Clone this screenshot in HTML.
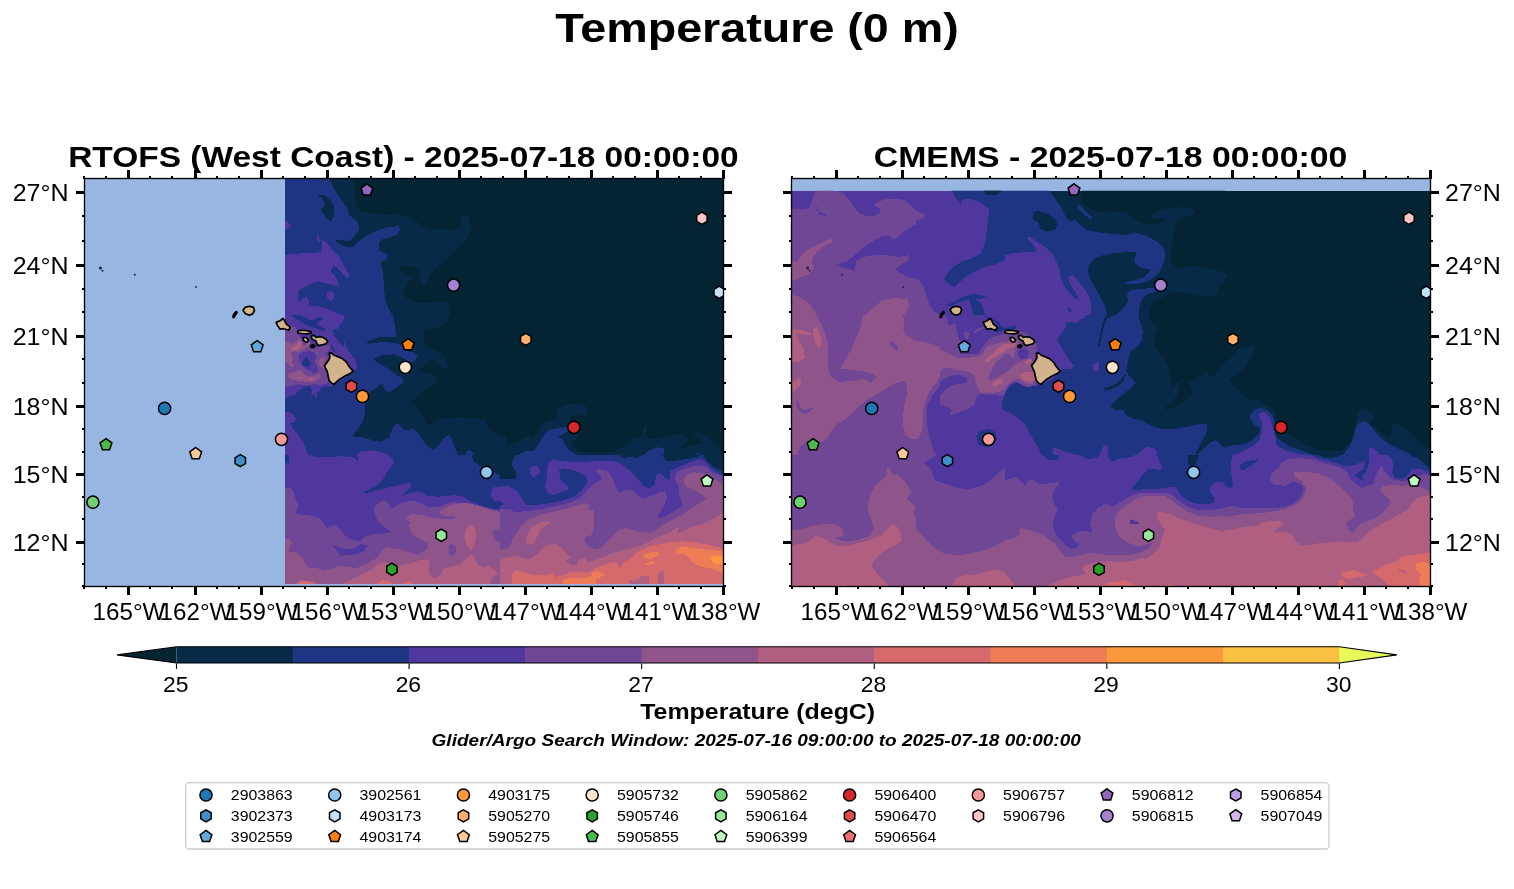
<!DOCTYPE html><html><head><meta charset="utf-8"><title>Temperature (0 m)</title>
<style>html,body{margin:0;padding:0;background:#fff}svg{display:block;will-change:transform}text{font-family:"Liberation Sans",sans-serif;fill:#000}</style></head><body>
<svg width="1514" height="889" viewBox="0 0 1514 889">
<rect width="1514" height="889" fill="#fff"/>
<rect x="84.40" y="178.40" width="639.00" height="407.80" fill="#97b6e1"/>
<rect x="791.50" y="178.40" width="639.10" height="407.80" fill="#97b6e1"/>
<clipPath id="c1"><rect x="285.00" y="178.40" width="215.00" height="136.60"/></clipPath>
<g clip-path="url(#c1)" shape-rendering="crispEdges">
<rect x="285.00" y="178.40" width="215.00" height="136.60" fill="#062a47"/>
<g transform="translate(280,175) scale(0.157480)">
<polygon points="0,0 300,0 330,60 350,100 390,160 420,200 440,250 470,280 495,300 505,345 470,390 440,420 400,415 360,410 350,420 380,440 430,460 460,455 500,420 560,380 620,350 700,330 755,325 765,350 740,380 700,395 650,405 625,430 630,480 660,495 685,510 680,535 650,545 640,560 655,620 660,700 665,780 685,840 710,889 0,889" fill="#1f3483"/>
<polygon points="240,130 280,125 320,160 345,210 345,260 320,295 290,265 260,225 285,185 270,150" fill="#062a47"/>
<polygon points="32,285 70,320 40,350 32,345" fill="#4f379e"/>
<polygon points="0,510 100,500 200,495 260,490 270,460 265,410 290,425 330,470 370,510 390,550 420,600 440,630 435,655 400,630 370,595 340,572 335,590 320,605 350,640 370,680 375,710 340,700 300,690 250,675 200,690 150,715 120,730 115,760 120,820 140,785 170,775 185,800 180,830 230,830 300,850 350,870 380,889 0,889" fill="#4f379e"/>
<polygon points="230,385 245,380 255,430 240,415" fill="#4f379e"/>
<polygon points="300,745 325,735 348,755 340,790 315,800 298,775" fill="#4f379e"/>
<polygon points="475,0 470,60 475,130 485,190 510,230 600,245 690,255 750,245 830,270 900,320 950,355 1000,340 1060,345 1110,355 1140,330 1160,290 1150,265 1175,255 1205,280 1213,330 1190,400 1130,470 1050,545 980,600 940,650 930,695 905,700 890,660 880,600 840,580 790,575 750,575 760,600 800,630 835,645 840,665 810,680 795,720 775,750 800,780 850,805 900,815 960,810 1020,805 1060,810 1075,850 1080,889 1420,889 1420,0" fill="#042333"/>
</g></g>
<clipPath id="c2"><rect x="500.00" y="178.40" width="223.40" height="136.60"/></clipPath>
<g clip-path="url(#c2)" shape-rendering="crispEdges">
<rect x="500.00" y="178.40" width="223.40" height="136.60" fill="#042333"/>
<g transform="translate(500,175) scale(0.157480)">
</g></g>
<clipPath id="c3"><rect x="285.00" y="315.00" width="215.00" height="140.00"/></clipPath>
<g clip-path="url(#c3)" shape-rendering="crispEdges">
<rect x="285.00" y="315.00" width="215.00" height="140.00" fill="#062a47"/>
<g transform="translate(280,315) scale(0.157480)">
<polygon points="0,0 715,0 730,60 738,140 690,142 640,140 590,155 545,175 570,182 640,172 720,176 775,190 790,225 850,238 875,265 855,292 830,300 770,268 720,250 650,255 595,278 610,300 650,320 700,350 745,385 782,405 778,430 740,460 690,492 665,470 645,438 600,470 560,500 540,540 538,640 520,690 480,740 460,770 520,775 600,800 640,805 690,780 715,720 740,685 760,700 790,730 850,725 880,750 900,790 935,830 975,860 1010,820 1050,775 1075,762 1090,790 1110,840 1130,889 0,889" fill="#1f3483"/>
<polygon points="1170,889 1200,855 1225,870 1235,889" fill="#1f3483"/>
<polygon points="1080,0 1060,40 1000,80 930,90 905,110 910,150 930,200 960,215 1010,235 1050,270 1065,320 1060,350 1020,330 990,300 965,275 940,300 900,335 878,355 900,365 960,370 1000,400 990,440 950,460 900,490 860,530 830,550 870,590 900,640 940,705 1000,670 1060,655 1150,650 1250,655 1300,665 1310,700 1340,735 1420,765 1420,0" fill="#042333"/>
<polygon points="0,0 405,0 400,40 370,80 380,130 400,160 410,200 440,240 475,280 490,330 470,350 420,390 340,440 310,460 280,450 240,470 235,530 210,500 200,460 150,470 100,490 60,520 0,545" fill="#4f379e"/>
<polygon points="75,0 120,25 180,35 235,55 245,40 210,15 200,0" fill="#1f3483"/>
<polygon points="300,60 330,90 345,150 335,200 320,160 305,110" fill="#1f3483"/>
<polygon points="0,60 100,50 200,70 250,120 300,200 330,250 290,300 285,340 300,380 310,420 250,440 180,430 100,440 50,440 0,430" fill="#704795"/>
<polygon points="135,275 170,262 205,285 205,320 175,335 140,320" fill="#4f379e"/>
<polygon points="150,285 175,278 192,295 188,318 165,322 150,308" fill="#1f3483"/>
<polygon points="45,160 90,150 140,165 160,200 150,240 110,262 70,255 45,225" fill="#8f558a"/>
<polygon points="45,385 100,365 180,370 250,375 290,395 250,418 160,415 90,420 50,410" fill="#8f558a"/>
<polygon points="250,280 285,265 295,310 285,350 262,330" fill="#8f558a"/>
<polygon points="80,200 130,190 140,215 120,238 85,232" fill="#b05f81"/>
<polygon points="120,392 180,385 235,395 225,410 150,408" fill="#b05f81"/>
<polygon points="0,615 70,620 105,660 90,680 60,690 90,730 130,780 160,830 180,889 0,889" fill="#4f379e"/>
<polygon points="480,889 520,865 580,860 640,870 690,889" fill="#4f379e"/>
</g></g>
<clipPath id="c4"><rect x="500.00" y="315.00" width="223.40" height="140.00"/></clipPath>
<g clip-path="url(#c4)" shape-rendering="crispEdges">
<rect x="500.00" y="315.00" width="223.40" height="140.00" fill="#042333"/>
<g transform="translate(500,315) scale(0.157480)">
<polygon points="0,765 40,770 50,830 100,810 180,770 210,785 240,740 260,695 300,675 360,660 370,600 400,575 470,565 540,575 558,605 545,635 490,630 445,640 440,680 500,760 480,800 450,800 470,840 510,870 560,875 640,880 720,870 790,830 830,800 850,780 895,775 910,720 925,700 935,730 930,780 990,790 1060,775 1110,760 1160,755 1195,790 1180,820 1120,860 1180,840 1250,820 1300,820 1260,780 1220,750 1260,745 1320,770 1360,810 1397,860 1420,889 0,889" fill="#062a47"/>
<polygon points="120,889 160,865 220,860 250,810 280,760 310,730 360,720 430,710 430,740 390,760 365,775 400,790 415,830 440,860 490,889" fill="#1f3483"/>
<polygon points="915,889 950,860 1000,840 1040,845 1040,889" fill="#1f3483"/>
<polygon points="1230,889 1260,878 1280,889" fill="#1f3483"/>
</g></g>
<clipPath id="c5"><rect x="285.00" y="455.00" width="215.00" height="129.00"/></clipPath>
<g clip-path="url(#c5)" shape-rendering="crispEdges">
<rect x="285.00" y="455.00" width="215.00" height="129.00" fill="#4f379e"/>
<g transform="translate(280,455) scale(0.157480)">
<polygon points="690,0 725,40 700,80 680,110 650,160 620,190 570,215 520,245 560,240 620,225 700,205 780,185 835,175 830,200 800,230 775,260 820,240 870,230 900,235 940,260 1000,265 1100,255 1160,260 1200,290 1280,320 1350,340 1420,345 1420,0" fill="#1f3483"/>
<polygon points="200,0 230,15 300,12 400,8 470,15 490,40 500,25 485,0" fill="#1f3483"/>
<polygon points="0,0 60,0 55,50 32,55 0,55" fill="#1f3483"/>
<polygon points="1215,0 1230,40 1270,70 1350,100 1420,150 1420,0" fill="#062a47"/>
<polygon points="1345,210 1380,200 1420,205 1420,290 1360,290 1340,260" fill="#4f379e"/>
<polygon points="0,200 70,210 90,240 100,290 120,320 95,370 140,380 200,385 250,400 280,440 305,475 320,450 350,445 390,480 420,520 470,540 510,550 540,520 580,505 640,500 700,490 760,510 810,545 825,560 780,530 720,500 660,460 620,420 600,370 600,330 630,300 670,288 690,310 710,340 760,310 810,295 850,290 900,310 940,330 1000,330 1060,310 1100,300 1200,305 1300,335 1420,360 1420,889 0,889" fill="#704795"/>
<polygon points="335,570 380,590 430,600 480,590 510,565 560,575 530,610 490,630 440,635 385,640 360,610" fill="#4f379e"/>
<polygon points="0,530 60,535 75,560 55,590 60,615 100,620 140,650 160,690 180,720 230,715 280,735 330,720 380,705 440,710 480,720 530,700 570,680 620,650 650,600 680,585 720,595 770,600 830,620 870,635 910,615 940,590 940,560 900,540 860,520 830,490 820,450 830,430 800,400 830,375 900,380 960,395 1020,405 1080,410 1115,400 1110,385 1050,385 1010,370 1030,345 1080,320 1150,305 1220,310 1300,335 1420,370 1420,889 0,889" fill="#8f558a"/>
<polygon points="1070,575 1090,565 1115,580 1115,620 1095,640 1070,625" fill="#704795"/>
<polygon points="1350,480 1420,470 1420,560 1360,540" fill="#704795"/>
<polygon points="400,818 450,790 520,760 580,730 610,700 650,680 760,700 820,690 880,670 940,660 950,700 945,740 960,770 990,785 1020,760 1040,720 1090,710 1150,690 1190,650 1215,635 1240,660 1255,700 1290,710 1330,705 1360,730 1385,750 1340,790 1320,889 400,889" fill="#b05f81"/>
<polygon points="1190,450 1215,445 1240,470 1245,520 1230,580 1210,610 1185,570 1170,520 1175,480" fill="#b05f81"/>
<polygon points="100,818 130,795 200,800 240,818" fill="#b05f81"/>
<polygon points="110,818 140,797 190,806 220,818" fill="#d5696c"/>
<polygon points="610,818 650,795 700,805 720,818" fill="#d5696c"/>
<polygon points="780,818 820,800 850,818" fill="#d5696c"/>
</g></g>
<clipPath id="c6"><rect x="500.00" y="455.00" width="223.40" height="129.00"/></clipPath>
<g clip-path="url(#c6)" shape-rendering="crispEdges">
<rect x="500.00" y="455.00" width="223.40" height="129.00" fill="#1f3483"/>
<g transform="translate(500,455) scale(0.157480)">
<polygon points="0,0 105,0 80,30 78,70 105,110 100,150 0,150" fill="#062a47"/>
<polygon points="760,0 790,25 820,10 870,20 900,0" fill="#062a47"/>
<polygon points="1030,0 1050,35 1100,40 1160,30 1230,20 1280,0" fill="#062a47"/>
<polygon points="1290,0 1320,40 1360,80 1420,105 1420,0" fill="#062a47"/>
<polygon points="0,195 60,200 110,230 140,280 170,320 250,315 350,300 430,280 480,260 520,225 550,180 555,140 520,120 460,95 400,85 375,100 385,160 430,200 430,220 380,240 340,255 300,240 285,200 295,150 300,90 310,45 330,28 400,40 500,45 600,40 700,35 760,50 800,80 850,120 880,160 910,195 950,215 985,190 990,130 1010,115 1040,135 1075,165 1080,100 1150,70 1220,40 1270,25 1300,40 1340,85 1420,135 1420,889 0,889" fill="#4f379e"/>
<polygon points="190,75 230,68 255,95 250,125 215,140 190,120" fill="#4f379e"/>
<polygon points="0,295 25,310 0,325" fill="#1f3483"/>
<polygon points="0,345 50,340 100,365 180,355 280,340 380,320 450,300 520,265 560,215 600,180 650,150 630,125 605,95 640,88 690,110 715,150 730,190 760,240 800,220 840,225 870,250 900,275 960,260 1020,235 1050,230 1060,270 1040,320 1020,360 1000,395 1030,400 1080,370 1140,335 1160,315 1140,260 1135,200 1110,150 1120,110 1180,85 1260,65 1310,75 1340,110 1420,135 1420,889 0,889" fill="#704795"/>
<polygon points="0,595 40,595 70,570 75,540 110,490 140,445 180,410 260,380 360,355 440,335 500,320 545,305 565,320 565,345 595,355 600,400 595,450 585,510 540,515 535,545 560,580 600,600 640,590 680,550 720,510 760,470 800,465 850,480 900,490 960,495 1000,470 1040,440 1080,420 1140,390 1200,350 1260,310 1310,280 1280,250 1230,220 1180,195 1165,160 1180,130 1230,110 1290,115 1350,150 1420,185 1420,889 0,889" fill="#8f558a"/>
<polygon points="0,665 50,650 110,640 180,665 230,635 270,595 310,570 360,565 400,600 430,630 450,650 420,670 440,695 490,700 500,660 540,655 560,680 600,670 650,650 720,620 800,600 870,585 940,555 1000,520 1060,500 1110,470 1140,460 1125,500 1180,475 1220,455 1280,440 1330,420 1420,365 1420,889 0,889" fill="#b05f81"/>
<polygon points="165,530 200,460 250,430 310,420 315,435 260,470 235,520 215,565 170,570" fill="#b05f81"/>
<polygon points="75,760 95,735 130,740 180,755 250,765 310,760 340,745 345,775 400,765 450,745 520,745 560,750 600,720 650,700 700,685 740,680 760,720 790,680 840,650 880,610 940,585 1000,570 1080,555 1160,548 1250,555 1320,570 1420,592 1420,889 95,889 75,790" fill="#d5696c"/>
<polygon points="820,790 850,800 900,770 945,765 950,889 830,889" fill="#b05f81"/>
<polygon points="1005,750 1040,730 1045,760 1035,889 1005,889" fill="#b05f81"/>
<polygon points="390,889 400,795 450,780 520,785 580,770 590,745 620,738 670,760 640,775 610,790 600,889" fill="#ee7c55"/>
<polygon points="270,889 290,800 320,889" fill="#ee7c55"/>
<polygon points="905,635 940,620 1000,615 1010,635 960,660 920,655" fill="#ee7c55"/>
<polygon points="920,690 975,670 975,690 930,700" fill="#ee7c55"/>
<polygon points="1115,600 1160,580 1220,590 1300,600 1420,612 1420,750 1340,720 1280,710 1230,690 1200,650 1170,630 1120,630" fill="#ee7c55"/>
<polygon points="1340,650 1360,640 1420,640 1420,690 1370,690 1345,675" fill="#fa993c"/>
</g></g>
<clipPath id="c7"><rect x="285.00" y="315.00" width="65.00" height="80.00"/></clipPath>
<g clip-path="url(#c7)" shape-rendering="crispEdges">
<rect x="285.00" y="315.00" width="65.00" height="80.00" fill="#1f3483"/>
<g transform="translate(280,315) scale(0.090009)">
<polygon points="57,0 700,0 715,40 690,80 660,110 650,150 620,150 590,170 600,230 640,280 680,330 700,370 720,290 730,340 760,400 810,450 850,510 860,560 840,620 790,650 600,780 560,800 520,790 470,800 440,840 400,889 57,889" fill="#4f379e"/>
<polygon points="130,0 170,40 230,70 290,110 340,130 400,150 460,170 500,190 495,150 440,120 400,100 440,70 480,40 450,20 400,40 350,60 300,40 260,20 220,0" fill="#1f3483"/>
<polygon points="560,330 590,350 620,400 600,410 570,380" fill="#1f3483"/>
<polygon points="160,889 200,850 260,800 330,790 360,830 345,889" fill="#1f3483"/>
<polygon points="57,110 130,120 180,140 200,200 230,250 260,300 330,320 400,350 480,350 530,330 560,360 540,400 500,430 545,470 520,530 495,560 505,600 525,650 540,720 520,760 460,780 380,770 300,780 200,770 100,790 57,800" fill="#704795"/>
<polygon points="215,430 260,410 330,400 390,420 400,470 380,520 420,580 420,630 370,650 330,620 270,590 230,550 210,490" fill="#4f379e"/>
<polygon points="245,530 270,490 300,465 320,500 345,550 320,575 280,575 250,560" fill="#1f3483"/>
<polygon points="57,290 100,300 150,320 190,290 210,250 240,290 250,340 290,330 330,310 340,330 280,370 230,400 190,410 150,400 120,420 140,480 130,540 160,570 130,580 90,540 57,520" fill="#8f558a"/>
<polygon points="100,650 160,630 230,610 260,640 300,680 380,680 440,655 455,680 420,720 360,740 280,740 200,730 130,720 90,690" fill="#8f558a"/>
<polygon points="430,520 450,480 490,470 500,500 480,560 500,600 470,590 440,560" fill="#8f558a"/>
<polygon points="120,370 170,350 200,310 230,290 245,330 220,370 180,390 140,400" fill="#b05f81"/>
<polygon points="300,300 335,305 340,325 310,325" fill="#b05f81"/>
<polygon points="200,690 240,685 240,700 205,700" fill="#b05f81"/>
<polygon points="320,700 370,700 365,720 325,715" fill="#b05f81"/>
</g></g>
<clipPath id="c8"><rect x="791.50" y="190.80" width="213.50" height="124.20"/></clipPath>
<g clip-path="url(#c8)" shape-rendering="crispEdges">
<rect x="791.50" y="190.80" width="213.50" height="124.20" fill="#4f379e"/>
<g transform="translate(785,175) scale(0.157480)">
<polygon points="0,205 100,220 150,215 175,160 185,115 205,95 300,95 370,115 410,160 440,210 480,245 530,265 580,255 610,235 600,210 565,195 590,170 640,155 700,150 760,160 800,195 840,230 890,250 880,270 830,290 835,315 780,340 740,370 720,395 685,410 660,385 620,390 560,420 500,460 440,510 390,550 325,575 380,590 440,610 455,545 500,520 570,510 650,510 720,520 785,510 785,540 740,570 700,595 720,620 790,650 850,665 880,710 900,770 920,830 950,870 980,889 0,889" fill="#704795"/>
<polygon points="205,190 215,230 265,255 260,265 220,250 200,220" fill="#4f379e"/>
<polygon points="0,560 80,545 110,500 140,475 200,445 260,415 295,405 305,420 250,450 200,490 170,540 180,600 150,630 100,650 0,695" fill="#8f558a"/>
<polygon points="0,745 80,770 140,800 180,850 200,889 0,889" fill="#8f558a"/>
<polygon points="510,889 560,840 620,795 700,780 780,790 790,830 770,870 760,889" fill="#8f558a"/>
<polygon points="1055,95 1080,140 1115,185 1130,150 1180,150 1250,180 1295,220 1290,290 1280,360 1270,440 1240,500 1180,530 1120,550 1060,590 1020,640 1010,665 1040,690 1075,715 1110,680 1170,630 1250,590 1330,570 1397,540 1397,95" fill="#1f3483"/>
<polygon points="1255,95 1280,125 1340,130 1380,95" fill="#062a47"/>
<polygon points="1020,830 1060,810 1120,780 1190,755 1250,765 1280,770 1240,790 1210,790 1240,810 1260,850 1270,889 1200,889 1180,830 1170,790 1100,810 1050,835" fill="#1f3483"/>
</g></g>
<clipPath id="c9"><rect x="1005.00" y="190.80" width="220.00" height="124.20"/></clipPath>
<g clip-path="url(#c9)" shape-rendering="crispEdges">
<rect x="1005.00" y="190.80" width="220.00" height="124.20" fill="#062a47"/>
<g transform="translate(1005,175) scale(0.157480)">
<polygon points="490,95 480,150 500,185 540,215 590,235 650,230 700,235 760,235 800,260 840,290 880,310 940,315 1000,305 1020,285 990,275 940,280 920,260 960,235 1020,215 1100,205 1180,210 1205,235 1180,260 1120,270 1090,290 1080,340 1065,420 1050,500 1055,560 1090,590 1130,600 1160,575 1220,580 1300,595 1397,620 1397,95" fill="#042333"/>
<polygon points="910,889 920,840 950,800 1000,775 1060,745 1100,740 1180,755 1260,770 1330,765 1360,740 1350,710 1397,680 1397,889" fill="#042333"/>
<polygon points="0,95 280,95 310,140 340,180 365,220 385,265 410,295 450,285 480,320 520,350 600,365 680,375 760,380 830,370 900,385 960,420 1005,460 1020,500 1010,550 990,600 960,640 910,675 850,690 770,695 760,685 820,670 880,650 915,620 920,600 870,590 840,575 820,545 830,510 835,490 780,490 700,495 620,510 570,530 540,565 525,600 540,660 575,720 610,780 635,830 650,889 0,889" fill="#1f3483"/>
<polygon points="175,260 185,235 215,228 270,245 315,275 335,315 320,345 260,360 225,340 210,300 180,285" fill="#062a47"/>
<polygon points="462,195 475,190 550,270 540,280 500,250 465,215" fill="#1f3483"/>
<polygon points="710,889 760,840 785,800 770,760 790,735 850,725 950,715 960,740 900,760 870,790 855,830 850,889" fill="#1f3483"/>
<polygon points="0,510 60,495 130,490 205,485 175,440 140,400 160,393 210,430 260,460 300,500 325,545 345,600 355,660 380,710 410,750 440,780 465,795 465,770 430,720 405,670 400,645 430,635 470,680 510,730 540,790 550,840 540,889 0,889" fill="#4f379e"/>
<polygon points="390,845 410,845 430,865 410,868" fill="#1f3483"/>
</g></g>
<clipPath id="c10"><rect x="1225.00" y="190.80" width="205.60" height="124.20"/></clipPath>
<g clip-path="url(#c10)" shape-rendering="crispEdges">
<rect x="1225.00" y="190.80" width="205.60" height="124.20" fill="#042333"/>
<g transform="translate(1225,175) scale(0.157480)">
<polygon points="0,620 25,640 0,665" fill="#062a47"/>
</g></g>
<clipPath id="c11"><rect x="791.50" y="315.00" width="213.50" height="140.00"/></clipPath>
<g clip-path="url(#c11)" shape-rendering="crispEdges">
<rect x="791.50" y="315.00" width="213.50" height="140.00" fill="#704795"/>
<g transform="translate(785,315) scale(0.157480)">
<polygon points="1090,0 1085,40 1100,100 1110,170 1130,245 1200,245 1240,225 1280,190 1330,150 1397,120 1397,0" fill="#4f379e"/>
<polygon points="1135,110 1155,100 1170,125 1160,155 1140,150" fill="#704795"/>
<polygon points="1140,385 1090,380 1050,395 1000,440 960,480 930,520 905,570 900,640 905,720 920,790 940,850 960,889 1397,889 1397,400 1200,400 1160,410" fill="#4f379e"/>
<polygon points="1397,480 1340,500 1280,505 1230,480 1210,440 1200,400 1160,410 1120,430 1060,460 1010,490 980,530 1000,570 1060,600 1045,640 1100,620 1160,595 1220,565 1280,540 1340,520 1397,500" fill="#704795"/>
<polygon points="0,0 200,0 220,40 250,100 270,170 275,250 275,340 290,390 340,425 420,420 500,405 545,430 585,395 560,375 480,355 400,345 350,340 380,290 420,220 450,150 480,80 495,0 745,0 760,40 750,90 770,130 820,160 900,175 980,200 1040,240 1100,265 1180,270 1240,250 1290,215 1340,170 1397,140 1397,480 1340,500 1280,505 1230,480 1210,440 1200,400 1150,365 1080,345 1010,330 990,380 960,430 920,480 895,540 880,600 875,680 870,740 840,785 800,790 765,760 750,700 750,630 760,560 775,490 775,440 750,420 700,435 640,470 580,505 520,540 470,580 420,630 370,670 330,690 300,730 270,780 230,810 160,790 100,830 80,889 0,889" fill="#8f558a"/>
<polygon points="668,165 690,170 720,205 715,230 690,215 670,190" fill="#704795"/>
<polygon points="75,535 90,550 95,590 120,605 160,590 185,595 130,630 90,610 70,575" fill="#704795"/>
<polygon points="0,80 100,95 165,115 170,130 120,125 70,120 90,170 120,220 125,270 90,300 0,305" fill="#b05f81"/>
<polygon points="180,90 200,75 225,130 235,180 215,215 195,180 180,130" fill="#b05f81"/>
<polygon points="0,455 80,410 105,400 100,440 60,480 0,495" fill="#b05f81"/>
<polygon points="1265,290 1300,255 1350,225 1397,200 1397,215 1350,260 1300,295 1270,310" fill="#b05f81"/>
<polygon points="1315,435 1350,420 1380,425 1350,455 1320,455" fill="#b05f81"/>
<polygon points="1215,770 1240,735 1290,722 1335,745 1345,790 1320,830 1270,840 1230,820" fill="#1f3483"/>
<polygon points="1380,540 1397,520 1397,610 1375,590" fill="#1f3483"/>
</g></g>
<clipPath id="c12"><rect x="1005.00" y="315.00" width="220.00" height="140.00"/></clipPath>
<g clip-path="url(#c12)" shape-rendering="crispEdges">
<rect x="1005.00" y="315.00" width="220.00" height="140.00" fill="#1f3483"/>
<g transform="translate(1005,315) scale(0.157480)">
<polygon points="845,0 860,50 875,100 870,160 840,200 800,230 780,290 770,350 785,380 830,430 790,470 740,510 700,545 670,585 700,605 750,600 770,635 820,660 870,670 920,700 980,720 1060,725 1150,710 1230,695 1285,690 1280,740 1250,800 1225,850 1210,889 1250,860 1300,810 1340,795 1380,830 1397,850 1397,0" fill="#062a47"/>
<polygon points="640,0 690,0 650,20 630,60 615,130 600,200 590,195 605,120 620,50" fill="#062a47"/>
<polygon points="630,465 680,450 730,420 760,380 775,370 750,420 720,450 670,475 635,480" fill="#062a47"/>
<polygon points="915,0 930,40 980,90 950,130 945,180 970,230 1010,280 1040,330 1045,400 1060,470 1100,430 1140,400 1110,440 1100,500 1060,550 1010,590 1030,605 1090,580 1150,540 1190,490 1180,450 1160,430 1200,410 1250,380 1290,355 1290,400 1330,380 1397,300 1397,0" fill="#042333"/>
<polygon points="0,0 360,0 385,60 380,100 340,140 335,160 370,210 400,260 430,310 470,350 440,358 350,360 300,400 230,445 180,440 140,470 80,440 40,450 0,490" fill="#4f379e"/>
<polygon points="370,0 400,20 450,35 500,20 515,0" fill="#4f379e"/>
<polygon points="555,320 580,300 600,300 600,340 580,360 560,345" fill="#4f379e"/>
<polygon points="0,610 40,625 90,660 130,700 150,740 180,790 210,840 230,889 0,889" fill="#4f379e"/>
<polygon points="300,840 340,850 390,870 440,885 450,889 310,889" fill="#4f379e"/>
<polygon points="600,889 620,840 640,820 655,840 650,889" fill="#4f379e"/>
<polygon points="845,889 880,850 910,835 950,850 970,870 960,889" fill="#4f379e"/>
<polygon points="0,100 60,95 120,100 180,120 200,170 200,230 180,300 170,360 190,420 150,450 100,430 40,440 0,455" fill="#704795"/>
<polygon points="0,180 50,170 80,200 60,240 40,270 0,280" fill="#8f558a"/>
<polygon points="0,340 50,320 110,300 160,280 175,320 180,380 190,420 150,440 120,400 80,380 30,375 0,380" fill="#8f558a"/>
<polygon points="0,195 40,190 60,215 30,235 0,235" fill="#b05f81"/>
<polygon points="130,380 160,365 185,390 185,420 150,425 130,405" fill="#b05f81"/>
<polygon points="85,220 120,205 150,225 150,260 115,280 90,260" fill="#4f379e"/>
</g></g>
<clipPath id="c13"><rect x="1225.00" y="315.00" width="205.60" height="140.00"/></clipPath>
<g clip-path="url(#c13)" shape-rendering="crispEdges">
<rect x="1225.00" y="315.00" width="205.60" height="140.00" fill="#042333"/>
<g transform="translate(1225,315) scale(0.157480)">
<polygon points="0,300 40,270 80,220 130,200 185,200 170,260 130,320 90,370 50,395 30,410 60,450 110,500 160,550 200,535 250,565 300,590 325,640 330,690 400,760 460,790 520,830 600,855 680,865 740,860 790,820 820,750 835,650 850,605 900,598 940,620 940,660 920,690 960,720 1000,760 1050,775 1060,700 1090,685 1130,710 1180,750 1230,800 1305,860 1305,889 0,889" fill="#062a47"/>
<polygon points="0,840 60,825 130,820 180,790 215,750 225,720 190,700 165,670 160,640 180,605 220,590 270,605 305,640 320,700 315,750 340,790 400,830 460,850 520,875 570,889 0,889" fill="#1f3483"/>
<polygon points="745,889 780,850 810,790 830,720 855,678 890,675 930,710 980,770 1040,820 1100,850 1160,875 1180,889" fill="#1f3483"/>
<polygon points="60,889 120,860 180,830 220,790 235,740 235,680 215,640 225,620 255,618 285,650 305,720 320,780 330,830 380,860 440,875 500,889" fill="#4f379e"/>
<polygon points="915,845 945,845 965,870 990,889 915,889" fill="#4f379e"/>
</g></g>
<clipPath id="c14"><rect x="791.50" y="455.00" width="213.50" height="131.20"/></clipPath>
<g clip-path="url(#c14)" shape-rendering="crispEdges">
<rect x="791.50" y="455.00" width="213.50" height="131.20" fill="#704795"/>
<g transform="translate(785,455) scale(0.157480)">
<polygon points="960,0 920,30 880,55 920,80 940,120 950,160 1010,180 1080,205 1160,220 1240,200 1300,165 1350,120 1397,80 1397,0" fill="#4f379e"/>
<polygon points="0,465 90,480 150,455 220,440 320,440 360,465 375,500 360,520 320,520 350,545 400,550 480,535 540,510 565,470 555,430 535,380 525,320 540,250 570,200 610,160 645,130 650,100 640,80 660,80 690,130 715,120 760,165 800,230 775,275 825,325 820,380 835,410 830,460 860,500 900,545 950,590 1010,625 1080,635 1160,630 1240,610 1310,590 1397,545 1397,889 0,889" fill="#8f558a"/>
<polygon points="0,578 100,565 150,555 180,525 210,515 250,530 300,560 340,580 400,580 460,560 520,545 580,525 620,505 650,470 680,438 710,455 740,500 735,550 700,575 650,595 610,625 570,665 550,700 580,745 620,790 660,830 680,889 0,889" fill="#b05f81"/>
<polygon points="1050,889 1060,830 1085,780 1130,765 1200,760 1260,745 1320,730 1370,735 1397,745 1397,889" fill="#b05f81"/>
<polygon points="355,830 370,820 390,830" fill="#d5696c"/>
</g></g>
<clipPath id="c15"><rect x="1005.00" y="455.00" width="220.00" height="131.20"/></clipPath>
<g clip-path="url(#c15)" shape-rendering="crispEdges">
<rect x="1005.00" y="455.00" width="220.00" height="131.20" fill="#4f379e"/>
<g transform="translate(1005,455) scale(0.157480)">
<polygon points="965,0 980,40 1000,70 985,100 950,85 910,90 870,130 830,180 800,215 830,225 900,215 980,215 1040,205 1080,200 1100,230 1130,270 1180,300 1250,315 1320,305 1335,280 1305,240 1300,210 1330,175 1370,170 1397,185 1397,0" fill="#1f3483"/>
<polygon points="240,0 280,35 330,30 345,0" fill="#1f3483"/>
<polygon points="470,0 520,25 580,20 600,0" fill="#1f3483"/>
<polygon points="650,0 680,45 720,25 790,15 830,0" fill="#1f3483"/>
<polygon points="1165,0 1160,50 1180,70 1210,60 1230,0" fill="#062a47"/>
<polygon points="0,160 40,150 70,135 100,170 130,195 155,155 190,160 210,185 280,180 355,168 320,210 300,260 310,310 335,340 320,380 305,420 310,480 340,530 380,570 420,595 455,590 475,565 440,545 425,525 430,505 470,485 520,485 555,490 540,440 555,380 590,335 640,312 680,330 720,305 770,275 820,250 870,240 950,240 1030,240 1070,260 1110,295 1160,330 1230,350 1310,350 1397,335 1397,889 0,889" fill="#704795"/>
<polygon points="0,540 50,530 90,510 95,490 85,470 110,465 170,480 230,505 280,535 320,565 350,610 380,645 420,650 480,635 540,620 600,630 680,635 760,635 830,630 880,610 920,585 940,555 900,570 850,580 800,565 750,540 715,500 700,450 700,400 720,360 770,320 830,280 880,262 960,262 1020,262 1060,290 1100,320 1160,360 1230,385 1310,395 1397,385 1397,889 0,889" fill="#8f558a"/>
<polygon points="960,370 990,362 1040,370 1090,395 1150,420 1220,440 1300,465 1397,490 1397,889 250,889 270,830 320,805 380,785 440,770 500,760 510,745 490,720 520,695 580,680 660,675 760,680 820,670 870,655 900,660 920,640 960,610 985,580 990,540 1005,500 1015,480 990,440 970,400" fill="#b05f81"/>
<polygon points="0,755 30,780 60,830 70,889 0,889" fill="#b05f81"/>
<polygon points="630,830 660,810 720,805 760,795 790,810 830,830 830,889 630,889" fill="#d5696c"/>
<polygon points="1020,830 1045,820 1080,830 1080,889 1020,889" fill="#d5696c"/>
<polygon points="795,408 850,425 850,438 795,440" fill="#4f379e"/>
</g></g>
<clipPath id="c16"><rect x="1225.00" y="455.00" width="205.60" height="131.20"/></clipPath>
<g clip-path="url(#c16)" shape-rendering="crispEdges">
<rect x="1225.00" y="455.00" width="205.60" height="131.20" fill="#4f379e"/>
<g transform="translate(1225,455) scale(0.157480)">
<polygon points="0,0 50,0 40,40 35,90 45,150 50,200 30,210 0,195" fill="#1f3483"/>
<polygon points="95,60 130,40 215,25 200,45 160,70 115,100 95,85" fill="#1f3483"/>
<polygon points="540,0 600,25 680,45 760,70 830,65 870,40 890,45 880,90 840,115 825,130 850,150 880,170 870,140 900,100 915,40 915,0" fill="#1f3483"/>
<polygon points="1035,0 1060,30 1070,70 1060,110 1080,145 1130,155 1165,120 1190,90 1230,85 1275,100 1305,110 1305,0" fill="#1f3483"/>
<polygon points="590,0 640,20 700,15 740,0" fill="#062a47"/>
<polygon points="1175,0 1220,20 1260,50 1290,80 1305,90 1305,0" fill="#062a47"/>
<polygon points="0,330 60,325 120,340 200,335 300,340 380,330 430,310 470,280 495,240 495,200 470,180 430,170 380,195 310,190 285,160 295,120 340,80 360,50 400,25 470,20 560,30 640,55 720,75 780,110 790,145 830,180 870,210 910,190 945,185 950,150 970,100 995,70 1020,110 1045,140 1080,160 1140,165 1180,150 1270,120 1305,130 1305,889 0,889" fill="#704795"/>
<polygon points="0,395 60,385 130,375 220,370 300,360 380,345 440,320 480,290 510,250 515,200 480,160 440,135 440,110 500,105 580,115 640,135 700,175 750,220 790,260 810,290 815,350 825,395 790,410 770,440 790,480 815,495 830,470 870,430 930,410 990,380 1030,340 1055,300 1020,260 985,225 1000,200 1060,190 1130,195 1170,190 1230,195 1280,220 1305,240 1305,889 0,889" fill="#8f558a"/>
<polygon points="0,480 60,470 130,455 200,450 240,425 300,420 355,420 375,438 340,460 305,485 330,490 390,485 430,510 450,550 480,570 520,575 600,560 680,555 740,548 790,555 840,555 880,520 920,480 980,445 1040,415 1100,380 1160,345 1195,300 1225,270 1270,260 1305,255 1305,889 0,889" fill="#b05f81"/>
<polygon points="710,889 725,795 745,785 760,810 775,889" fill="#d5696c"/>
<polygon points="740,745 780,740 810,730 850,745 900,760 895,770 840,775 790,790 760,780 740,760" fill="#d5696c"/>
<polygon points="935,740 980,720 1020,700 1060,685 1100,670 1110,650 1160,640 1230,630 1305,620 1305,889 1050,889 1035,830 1010,795 970,770" fill="#d5696c"/>
<polygon points="1210,690 1240,680 1305,685 1305,889 1240,889 1240,830 1230,790 1245,760 1215,730" fill="#ee7c55"/>
<polygon points="1100,725 1130,730 1160,750 1140,750 1105,735" fill="#b05f81"/>
</g></g>
<clipPath id="c17"><rect x="940.00" y="315.00" width="140.00" height="90.00"/></clipPath>
<g clip-path="url(#c17)" shape-rendering="crispEdges">
<rect x="940.00" y="315.00" width="140.00" height="90.00" fill="#4f379e"/>
<g transform="translate(940,315) scale(0.101225)">
<polygon points="1383,60 1340,80 1290,70 1240,75 1240,130 1200,180 1160,230 1180,290 1210,340 1240,390 1270,440 1300,480 1320,500 1300,530 1200,540 1190,560 1100,640 1000,690 940,700 900,700 860,715 820,700 780,680 740,670 700,690 660,740 640,790 620,840 610,889 1383,889" fill="#1f3483"/>
<polygon points="440,0 470,20 500,30 570,60 600,100 640,130 700,110 750,110 750,140 700,150 620,150 560,170 520,150 570,130 580,100 540,60 480,40 450,20" fill="#1f3483"/>
<polygon points="0,0 30,0 80,40 70,90 110,100 150,80 165,150 180,220 200,260 200,390 300,385 380,380 400,340 440,290 480,240 520,215 600,195 650,170 700,165 760,185 800,170 850,175 880,200 940,260 960,320 950,370 920,480 940,600 960,660 940,700 880,710 830,700 780,670 740,660 700,680 660,730 640,780 600,800 540,790 480,790 420,780 380,790 350,830 340,889 0,889" fill="#704795"/>
<polygon points="20,640 80,610 160,590 230,600 270,630 260,670 200,680 130,690 80,720 40,760 0,800 0,660" fill="#4f379e"/>
<polygon points="775,360 800,335 850,330 880,360 870,410 830,440 790,430 770,395" fill="#4f379e"/>
<polygon points="330,160 380,130 430,120 440,135 390,155 340,180" fill="#704795"/>
<polygon points="240,170 260,155 285,180 280,230 250,240 240,210" fill="#704795"/>
<polygon points="0,340 40,360 100,390 160,420 220,430 300,420 380,410 420,390 440,350 480,310 540,290 600,270 660,260 720,250 770,260 780,290 740,320 740,360 720,430 690,390 650,380 600,420 560,460 520,520 490,580 475,630 500,650 540,630 600,600 650,570 700,530 740,490 790,460 850,440 900,430 920,470 930,560 940,640 920,680 880,690 830,670 790,640 750,630 700,660 660,700 630,740 580,760 520,770 450,775 400,760 370,720 350,660 340,600 300,570 230,550 150,540 80,520 40,520 0,560" fill="#8f558a"/>
<polygon points="440,470 450,440 500,400 540,360 590,310 640,290 700,285 750,275 760,300 720,320 660,330 620,370 570,400 520,430 480,460" fill="#b05f81"/>
<polygon points="515,680 540,660 590,635 620,640 610,670 570,700 530,710" fill="#b05f81"/>
<polygon points="790,600 820,570 860,560 900,560 930,580 935,640 900,660 850,650 810,630" fill="#b05f81"/>
<polygon points="840,470 870,440 910,435 900,460 860,490" fill="#b05f81"/>
</g></g>
<clipPath id="axL"><rect x="84.40" y="178.40" width="639.00" height="407.80"/></clipPath>
<clipPath id="axR"><rect x="791.50" y="178.40" width="639.10" height="407.80"/></clipPath>
<g clip-path="url(#axL)"><g transform="translate(0.00,0)">
<polygon points="329.1,353.3 331.3,352.8 334.0,355.1 338.5,356.9 343.0,359.1 346.6,362.3 348.4,365.4 351.1,369.0 353.4,370.8 350.2,373.5 346.6,375.3 343.0,377.1 339.4,379.4 336.3,382.1 334.0,384.3 331.3,383.0 329.1,380.3 328.2,376.2 327.3,371.7 325.5,368.1 324.6,365.4 326.8,362.7 329.1,359.6 330.0,356.4" fill="#d2b48c" stroke="#000" stroke-width="1.7" stroke-linejoin="round"/>
<polygon points="311.5,335.7 314.2,335.3 316.0,337.5 319.6,336.6 323.2,337.5 325.9,339.3 327.7,341.6 325.9,343.8 322.3,344.7 318.7,345.6 316.9,343.8 316.0,341.1 313.3,339.8 311.5,338.0" fill="#d2b48c" stroke="#000" stroke-width="1.7" stroke-linejoin="round"/>
<polygon points="297.6,331.2 300.7,330.3 306.1,330.5 311.1,331.7 311.1,333.0 307.0,333.9 301.6,333.5 298.0,333.0" fill="#d2b48c" stroke="#000" stroke-width="1.7" stroke-linejoin="round"/>
<polygon points="303.0,337.5 306.1,337.5 308.4,339.8 307.5,342.0 305.2,342.0 303.6,340.2" fill="#d2b48c" stroke="#000" stroke-width="1.7" stroke-linejoin="round"/>
<polygon points="310.6,345.6 313.3,344.7 315.1,346.1 313.8,347.4 311.1,347.4" fill="#000" stroke="#000" stroke-width="1.7" stroke-linejoin="round"/>
<polygon points="243.0,310.3 245.0,307.4 249.3,306.3 253.2,307.1 254.5,310.3 252.9,313.7 249.3,315.3 245.4,313.7" fill="#d2b48c" stroke="#000" stroke-width="1.7" stroke-linejoin="round"/>
<polygon points="276.1,322.4 280.0,320.8 283.1,318.5 284.7,320.8 286.3,324.0 290.2,327.1 288.7,330.3 283.9,328.7 280.0,329.2 277.6,325.6" fill="#d2b48c" stroke="#000" stroke-width="1.7" stroke-linejoin="round"/>
<polyline points="233.7,316.7 234.6,314.5 236.2,312.6" fill="none" stroke="#000" stroke-width="3.3" stroke-linecap="round" stroke-linejoin="round"/>
<circle cx="100.50" cy="268.10" r="1.50" fill="#223"/>
<circle cx="102.50" cy="270.80" r="1.00" fill="#223"/>
<circle cx="134.80" cy="274.80" r="1.00" fill="#223"/>
<circle cx="195.90" cy="287.00" r="0.90" fill="#223"/>
<polygon points="366.9,183.8 372.8,188.1 370.5,195.0 363.3,195.0 361.0,188.1" fill="#9467bd" stroke="#000" stroke-width="1.50" stroke-linejoin="miter"/>
<circle cx="453.60" cy="285.20" r="6.10" fill="#a780cf" stroke="#000" stroke-width="1.50"/>
<polygon points="701.9,212.2 707.1,215.3 707.1,221.3 701.9,224.4 696.7,221.3 696.7,215.3" fill="#fdc6c6" stroke="#000" stroke-width="1.50" stroke-linejoin="miter"/>
<polygon points="719.2,286.2 724.4,289.3 724.4,295.3 719.2,298.4 714.0,295.3 714.0,289.3" fill="#c4e1fa" stroke="#000" stroke-width="1.50" stroke-linejoin="miter"/>
<polygon points="257.2,340.6 263.1,344.9 260.8,351.8 253.6,351.8 251.3,344.9" fill="#63a9dd" stroke="#000" stroke-width="1.50" stroke-linejoin="miter"/>
<polygon points="408.1,338.6 414.0,342.9 411.7,349.8 404.5,349.8 402.2,342.9" fill="#ff7f0e" stroke="#000" stroke-width="1.50" stroke-linejoin="miter"/>
<circle cx="405.30" cy="367.30" r="6.10" fill="#ffe2ca" stroke="#000" stroke-width="1.50"/>
<polygon points="525.8,333.3 531.0,336.4 531.0,342.4 525.8,345.4 520.6,342.4 520.6,336.4" fill="#ffb069" stroke="#000" stroke-width="1.50" stroke-linejoin="miter"/>
<polygon points="351.4,380.2 356.6,383.3 356.6,389.3 351.4,392.4 346.2,389.3 346.2,383.3" fill="#e14b4b" stroke="#000" stroke-width="1.50" stroke-linejoin="miter"/>
<circle cx="362.50" cy="396.40" r="6.10" fill="#ff9838" stroke="#000" stroke-width="1.50"/>
<circle cx="164.60" cy="408.40" r="6.10" fill="#1f77b4" stroke="#000" stroke-width="1.50"/>
<circle cx="573.90" cy="427.30" r="6.10" fill="#d62728" stroke="#000" stroke-width="1.50"/>
<circle cx="281.50" cy="439.30" r="6.10" fill="#f59a9a" stroke="#000" stroke-width="1.50"/>
<polygon points="106.0,438.6 111.9,442.9 109.6,449.8 102.4,449.8 100.1,442.9" fill="#4bba4b" stroke="#000" stroke-width="1.50" stroke-linejoin="miter"/>
<polygon points="195.7,447.5 201.6,451.8 199.3,458.7 192.1,458.7 189.8,451.8" fill="#ffc999" stroke="#000" stroke-width="1.50" stroke-linejoin="miter"/>
<polygon points="240.3,454.6 245.5,457.6 245.5,463.6 240.3,466.7 235.1,463.6 235.1,457.6" fill="#3d8ec9" stroke="#000" stroke-width="1.50" stroke-linejoin="miter"/>
<circle cx="486.50" cy="472.30" r="6.10" fill="#92c5ee" stroke="#000" stroke-width="1.50"/>
<polygon points="707.0,474.8 712.9,479.1 710.6,486.0 703.4,486.0 701.1,479.1" fill="#bffbc0" stroke="#000" stroke-width="1.50" stroke-linejoin="miter"/>
<circle cx="92.90" cy="502.20" r="6.10" fill="#70d070" stroke="#000" stroke-width="1.50"/>
<polygon points="441.3,529.2 446.5,532.3 446.5,538.3 441.3,541.3 436.1,538.3 436.1,532.3" fill="#98e698" stroke="#000" stroke-width="1.50" stroke-linejoin="miter"/>
<polygon points="391.9,563.2 397.1,566.3 397.1,572.3 391.9,575.3 386.7,572.3 386.7,566.3" fill="#2ca02c" stroke="#000" stroke-width="1.50" stroke-linejoin="miter"/>
</g></g>
<g clip-path="url(#axR)"><g transform="translate(707.10,0)">
<polygon points="329.1,353.3 331.3,352.8 334.0,355.1 338.5,356.9 343.0,359.1 346.6,362.3 348.4,365.4 351.1,369.0 353.4,370.8 350.2,373.5 346.6,375.3 343.0,377.1 339.4,379.4 336.3,382.1 334.0,384.3 331.3,383.0 329.1,380.3 328.2,376.2 327.3,371.7 325.5,368.1 324.6,365.4 326.8,362.7 329.1,359.6 330.0,356.4" fill="#d2b48c" stroke="#000" stroke-width="1.7" stroke-linejoin="round"/>
<polygon points="311.5,335.7 314.2,335.3 316.0,337.5 319.6,336.6 323.2,337.5 325.9,339.3 327.7,341.6 325.9,343.8 322.3,344.7 318.7,345.6 316.9,343.8 316.0,341.1 313.3,339.8 311.5,338.0" fill="#d2b48c" stroke="#000" stroke-width="1.7" stroke-linejoin="round"/>
<polygon points="297.6,331.2 300.7,330.3 306.1,330.5 311.1,331.7 311.1,333.0 307.0,333.9 301.6,333.5 298.0,333.0" fill="#d2b48c" stroke="#000" stroke-width="1.7" stroke-linejoin="round"/>
<polygon points="303.0,337.5 306.1,337.5 308.4,339.8 307.5,342.0 305.2,342.0 303.6,340.2" fill="#d2b48c" stroke="#000" stroke-width="1.7" stroke-linejoin="round"/>
<polygon points="310.6,345.6 313.3,344.7 315.1,346.1 313.8,347.4 311.1,347.4" fill="#000" stroke="#000" stroke-width="1.7" stroke-linejoin="round"/>
<polygon points="243.0,310.3 245.0,307.4 249.3,306.3 253.2,307.1 254.5,310.3 252.9,313.7 249.3,315.3 245.4,313.7" fill="#d2b48c" stroke="#000" stroke-width="1.7" stroke-linejoin="round"/>
<polygon points="276.1,322.4 280.0,320.8 283.1,318.5 284.7,320.8 286.3,324.0 290.2,327.1 288.7,330.3 283.9,328.7 280.0,329.2 277.6,325.6" fill="#d2b48c" stroke="#000" stroke-width="1.7" stroke-linejoin="round"/>
<polyline points="233.7,316.7 234.6,314.5 236.2,312.6" fill="none" stroke="#000" stroke-width="3.3" stroke-linecap="round" stroke-linejoin="round"/>
<circle cx="100.50" cy="268.10" r="1.50" fill="#223"/>
<circle cx="102.50" cy="270.80" r="1.00" fill="#223"/>
<circle cx="134.80" cy="274.80" r="1.00" fill="#223"/>
<circle cx="195.90" cy="287.00" r="0.90" fill="#223"/>
<polygon points="366.9,183.8 372.8,188.1 370.5,195.0 363.3,195.0 361.0,188.1" fill="#9467bd" stroke="#000" stroke-width="1.50" stroke-linejoin="miter"/>
<circle cx="453.60" cy="285.20" r="6.10" fill="#a780cf" stroke="#000" stroke-width="1.50"/>
<polygon points="701.9,212.2 707.1,215.3 707.1,221.3 701.9,224.4 696.7,221.3 696.7,215.3" fill="#fdc6c6" stroke="#000" stroke-width="1.50" stroke-linejoin="miter"/>
<polygon points="719.2,286.2 724.4,289.3 724.4,295.3 719.2,298.4 714.0,295.3 714.0,289.3" fill="#c4e1fa" stroke="#000" stroke-width="1.50" stroke-linejoin="miter"/>
<polygon points="257.2,340.6 263.1,344.9 260.8,351.8 253.6,351.8 251.3,344.9" fill="#63a9dd" stroke="#000" stroke-width="1.50" stroke-linejoin="miter"/>
<polygon points="408.1,338.6 414.0,342.9 411.7,349.8 404.5,349.8 402.2,342.9" fill="#ff7f0e" stroke="#000" stroke-width="1.50" stroke-linejoin="miter"/>
<circle cx="405.30" cy="367.30" r="6.10" fill="#ffe2ca" stroke="#000" stroke-width="1.50"/>
<polygon points="525.8,333.3 531.0,336.4 531.0,342.4 525.8,345.4 520.6,342.4 520.6,336.4" fill="#ffb069" stroke="#000" stroke-width="1.50" stroke-linejoin="miter"/>
<polygon points="351.4,380.2 356.6,383.3 356.6,389.3 351.4,392.4 346.2,389.3 346.2,383.3" fill="#e14b4b" stroke="#000" stroke-width="1.50" stroke-linejoin="miter"/>
<circle cx="362.50" cy="396.40" r="6.10" fill="#ff9838" stroke="#000" stroke-width="1.50"/>
<circle cx="164.60" cy="408.40" r="6.10" fill="#1f77b4" stroke="#000" stroke-width="1.50"/>
<circle cx="573.90" cy="427.30" r="6.10" fill="#d62728" stroke="#000" stroke-width="1.50"/>
<circle cx="281.50" cy="439.30" r="6.10" fill="#f59a9a" stroke="#000" stroke-width="1.50"/>
<polygon points="106.0,438.6 111.9,442.9 109.6,449.8 102.4,449.8 100.1,442.9" fill="#4bba4b" stroke="#000" stroke-width="1.50" stroke-linejoin="miter"/>
<polygon points="195.7,447.5 201.6,451.8 199.3,458.7 192.1,458.7 189.8,451.8" fill="#ffc999" stroke="#000" stroke-width="1.50" stroke-linejoin="miter"/>
<polygon points="240.3,454.6 245.5,457.6 245.5,463.6 240.3,466.7 235.1,463.6 235.1,457.6" fill="#3d8ec9" stroke="#000" stroke-width="1.50" stroke-linejoin="miter"/>
<circle cx="486.50" cy="472.30" r="6.10" fill="#92c5ee" stroke="#000" stroke-width="1.50"/>
<polygon points="707.0,474.8 712.9,479.1 710.6,486.0 703.4,486.0 701.1,479.1" fill="#bffbc0" stroke="#000" stroke-width="1.50" stroke-linejoin="miter"/>
<circle cx="92.90" cy="502.20" r="6.10" fill="#70d070" stroke="#000" stroke-width="1.50"/>
<polygon points="441.3,529.2 446.5,532.3 446.5,538.3 441.3,541.3 436.1,538.3 436.1,532.3" fill="#98e698" stroke="#000" stroke-width="1.50" stroke-linejoin="miter"/>
<polygon points="391.9,563.2 397.1,566.3 397.1,572.3 391.9,575.3 386.7,572.3 386.7,566.3" fill="#2ca02c" stroke="#000" stroke-width="1.50" stroke-linejoin="miter"/>
</g></g>
<rect x="84.50" y="178.50" width="639.00" height="408.00" fill="none" stroke="#000" stroke-width="1.35"/>
<path d="M84.00 178.50v-2.7M84.00 586.50v2.7" stroke="#000" stroke-width="2" shape-rendering="crispEdges"/>
<path d="M106.00 178.50v-2.7M106.00 586.50v2.7" stroke="#000" stroke-width="2" shape-rendering="crispEdges"/>
<path d="M128.50 178.50v-8.7M128.50 586.50v8.7" stroke="#000" stroke-width="3" shape-rendering="crispEdges"/>
<text x="129.00" y="619.80" font-size="23.09" text-anchor="middle" font-weight="normal" font-style="normal" textLength="72.86" lengthAdjust="spacingAndGlyphs">165°W</text>
<path d="M150.00 178.50v-2.7M150.00 586.50v2.7" stroke="#000" stroke-width="2" shape-rendering="crispEdges"/>
<path d="M172.00 178.50v-2.7M172.00 586.50v2.7" stroke="#000" stroke-width="2" shape-rendering="crispEdges"/>
<path d="M195.50 178.50v-8.7M195.50 586.50v8.7" stroke="#000" stroke-width="3" shape-rendering="crispEdges"/>
<text x="196.00" y="619.80" font-size="23.09" text-anchor="middle" font-weight="normal" font-style="normal" textLength="72.86" lengthAdjust="spacingAndGlyphs">162°W</text>
<path d="M217.00 178.50v-2.7M217.00 586.50v2.7" stroke="#000" stroke-width="2" shape-rendering="crispEdges"/>
<path d="M239.00 178.50v-2.7M239.00 586.50v2.7" stroke="#000" stroke-width="2" shape-rendering="crispEdges"/>
<path d="M261.50 178.50v-8.7M261.50 586.50v8.7" stroke="#000" stroke-width="3" shape-rendering="crispEdges"/>
<text x="262.00" y="619.80" font-size="23.09" text-anchor="middle" font-weight="normal" font-style="normal" textLength="72.86" lengthAdjust="spacingAndGlyphs">159°W</text>
<path d="M283.00 178.50v-2.7M283.00 586.50v2.7" stroke="#000" stroke-width="2" shape-rendering="crispEdges"/>
<path d="M305.00 178.50v-2.7M305.00 586.50v2.7" stroke="#000" stroke-width="2" shape-rendering="crispEdges"/>
<path d="M327.50 178.50v-8.7M327.50 586.50v8.7" stroke="#000" stroke-width="3" shape-rendering="crispEdges"/>
<text x="328.00" y="619.80" font-size="23.09" text-anchor="middle" font-weight="normal" font-style="normal" textLength="72.86" lengthAdjust="spacingAndGlyphs">156°W</text>
<path d="M349.00 178.50v-2.7M349.00 586.50v2.7" stroke="#000" stroke-width="2" shape-rendering="crispEdges"/>
<path d="M371.00 178.50v-2.7M371.00 586.50v2.7" stroke="#000" stroke-width="2" shape-rendering="crispEdges"/>
<path d="M393.50 178.50v-8.7M393.50 586.50v8.7" stroke="#000" stroke-width="3" shape-rendering="crispEdges"/>
<text x="394.00" y="619.80" font-size="23.09" text-anchor="middle" font-weight="normal" font-style="normal" textLength="72.86" lengthAdjust="spacingAndGlyphs">153°W</text>
<path d="M415.00 178.50v-2.7M415.00 586.50v2.7" stroke="#000" stroke-width="2" shape-rendering="crispEdges"/>
<path d="M437.00 178.50v-2.7M437.00 586.50v2.7" stroke="#000" stroke-width="2" shape-rendering="crispEdges"/>
<path d="M459.50 178.50v-8.7M459.50 586.50v8.7" stroke="#000" stroke-width="3" shape-rendering="crispEdges"/>
<text x="460.00" y="619.80" font-size="23.09" text-anchor="middle" font-weight="normal" font-style="normal" textLength="72.86" lengthAdjust="spacingAndGlyphs">150°W</text>
<path d="M481.00 178.50v-2.7M481.00 586.50v2.7" stroke="#000" stroke-width="2" shape-rendering="crispEdges"/>
<path d="M503.00 178.50v-2.7M503.00 586.50v2.7" stroke="#000" stroke-width="2" shape-rendering="crispEdges"/>
<path d="M525.50 178.50v-8.7M525.50 586.50v8.7" stroke="#000" stroke-width="3" shape-rendering="crispEdges"/>
<text x="526.00" y="619.80" font-size="23.09" text-anchor="middle" font-weight="normal" font-style="normal" textLength="72.86" lengthAdjust="spacingAndGlyphs">147°W</text>
<path d="M547.00 178.50v-2.7M547.00 586.50v2.7" stroke="#000" stroke-width="2" shape-rendering="crispEdges"/>
<path d="M569.00 178.50v-2.7M569.00 586.50v2.7" stroke="#000" stroke-width="2" shape-rendering="crispEdges"/>
<path d="M591.50 178.50v-8.7M591.50 586.50v8.7" stroke="#000" stroke-width="3" shape-rendering="crispEdges"/>
<text x="592.00" y="619.80" font-size="23.09" text-anchor="middle" font-weight="normal" font-style="normal" textLength="72.86" lengthAdjust="spacingAndGlyphs">144°W</text>
<path d="M613.00 178.50v-2.7M613.00 586.50v2.7" stroke="#000" stroke-width="2" shape-rendering="crispEdges"/>
<path d="M635.00 178.50v-2.7M635.00 586.50v2.7" stroke="#000" stroke-width="2" shape-rendering="crispEdges"/>
<path d="M657.50 178.50v-8.7M657.50 586.50v8.7" stroke="#000" stroke-width="3" shape-rendering="crispEdges"/>
<text x="658.00" y="619.80" font-size="23.09" text-anchor="middle" font-weight="normal" font-style="normal" textLength="72.86" lengthAdjust="spacingAndGlyphs">141°W</text>
<path d="M679.00 178.50v-2.7M679.00 586.50v2.7" stroke="#000" stroke-width="2" shape-rendering="crispEdges"/>
<path d="M701.00 178.50v-2.7M701.00 586.50v2.7" stroke="#000" stroke-width="2" shape-rendering="crispEdges"/>
<path d="M723.50 178.50v-8.7M723.50 586.50v8.7" stroke="#000" stroke-width="3" shape-rendering="crispEdges"/>
<text x="724.00" y="619.80" font-size="23.09" text-anchor="middle" font-weight="normal" font-style="normal" textLength="72.86" lengthAdjust="spacingAndGlyphs">138°W</text>
<path d="M84.50 586.00h-2.7M723.50 586.00h2.7" stroke="#000" stroke-width="2" shape-rendering="crispEdges"/>
<path d="M84.50 564.00h-2.7M723.50 564.00h2.7" stroke="#000" stroke-width="2" shape-rendering="crispEdges"/>
<path d="M84.50 542.50h-8.7M723.50 542.50h8.7" stroke="#000" stroke-width="3" shape-rendering="crispEdges"/>
<text x="68.60" y="550.90" font-size="23.09" text-anchor="end" font-weight="normal" font-style="normal" textLength="55.91" lengthAdjust="spacingAndGlyphs">12°N</text>
<path d="M84.50 519.00h-2.7M723.50 519.00h2.7" stroke="#000" stroke-width="2" shape-rendering="crispEdges"/>
<path d="M84.50 497.00h-2.7M723.50 497.00h2.7" stroke="#000" stroke-width="2" shape-rendering="crispEdges"/>
<path d="M84.50 474.50h-8.7M723.50 474.50h8.7" stroke="#000" stroke-width="3" shape-rendering="crispEdges"/>
<text x="68.60" y="482.90" font-size="23.09" text-anchor="end" font-weight="normal" font-style="normal" textLength="55.91" lengthAdjust="spacingAndGlyphs">15°N</text>
<path d="M84.50 452.00h-2.7M723.50 452.00h2.7" stroke="#000" stroke-width="2" shape-rendering="crispEdges"/>
<path d="M84.50 429.00h-2.7M723.50 429.00h2.7" stroke="#000" stroke-width="2" shape-rendering="crispEdges"/>
<path d="M84.50 406.50h-8.7M723.50 406.50h8.7" stroke="#000" stroke-width="3" shape-rendering="crispEdges"/>
<text x="68.60" y="414.90" font-size="23.09" text-anchor="end" font-weight="normal" font-style="normal" textLength="55.91" lengthAdjust="spacingAndGlyphs">18°N</text>
<path d="M84.50 383.00h-2.7M723.50 383.00h2.7" stroke="#000" stroke-width="2" shape-rendering="crispEdges"/>
<path d="M84.50 359.00h-2.7M723.50 359.00h2.7" stroke="#000" stroke-width="2" shape-rendering="crispEdges"/>
<path d="M84.50 336.50h-8.7M723.50 336.50h8.7" stroke="#000" stroke-width="3" shape-rendering="crispEdges"/>
<text x="68.60" y="344.90" font-size="23.09" text-anchor="end" font-weight="normal" font-style="normal" textLength="55.91" lengthAdjust="spacingAndGlyphs">21°N</text>
<path d="M84.50 312.00h-2.7M723.50 312.00h2.7" stroke="#000" stroke-width="2" shape-rendering="crispEdges"/>
<path d="M84.50 289.00h-2.7M723.50 289.00h2.7" stroke="#000" stroke-width="2" shape-rendering="crispEdges"/>
<path d="M84.50 265.50h-8.7M723.50 265.50h8.7" stroke="#000" stroke-width="3" shape-rendering="crispEdges"/>
<text x="68.60" y="273.90" font-size="23.09" text-anchor="end" font-weight="normal" font-style="normal" textLength="55.91" lengthAdjust="spacingAndGlyphs">24°N</text>
<path d="M84.50 241.00h-2.7M723.50 241.00h2.7" stroke="#000" stroke-width="2" shape-rendering="crispEdges"/>
<path d="M84.50 216.00h-2.7M723.50 216.00h2.7" stroke="#000" stroke-width="2" shape-rendering="crispEdges"/>
<path d="M84.50 192.50h-8.7M723.50 192.50h8.7" stroke="#000" stroke-width="3" shape-rendering="crispEdges"/>
<text x="68.60" y="200.90" font-size="23.09" text-anchor="end" font-weight="normal" font-style="normal" textLength="55.91" lengthAdjust="spacingAndGlyphs">27°N</text>
<rect x="791.50" y="178.50" width="639.00" height="408.00" fill="none" stroke="#000" stroke-width="1.35"/>
<path d="M792.00 178.50v-2.7M792.00 586.50v2.7" stroke="#000" stroke-width="2" shape-rendering="crispEdges"/>
<path d="M814.00 178.50v-2.7M814.00 586.50v2.7" stroke="#000" stroke-width="2" shape-rendering="crispEdges"/>
<path d="M836.50 178.50v-8.7M836.50 586.50v8.7" stroke="#000" stroke-width="3" shape-rendering="crispEdges"/>
<text x="837.00" y="619.80" font-size="23.09" text-anchor="middle" font-weight="normal" font-style="normal" textLength="72.86" lengthAdjust="spacingAndGlyphs">165°W</text>
<path d="M858.00 178.50v-2.7M858.00 586.50v2.7" stroke="#000" stroke-width="2" shape-rendering="crispEdges"/>
<path d="M880.00 178.50v-2.7M880.00 586.50v2.7" stroke="#000" stroke-width="2" shape-rendering="crispEdges"/>
<path d="M902.50 178.50v-8.7M902.50 586.50v8.7" stroke="#000" stroke-width="3" shape-rendering="crispEdges"/>
<text x="903.00" y="619.80" font-size="23.09" text-anchor="middle" font-weight="normal" font-style="normal" textLength="72.86" lengthAdjust="spacingAndGlyphs">162°W</text>
<path d="M924.00 178.50v-2.7M924.00 586.50v2.7" stroke="#000" stroke-width="2" shape-rendering="crispEdges"/>
<path d="M946.00 178.50v-2.7M946.00 586.50v2.7" stroke="#000" stroke-width="2" shape-rendering="crispEdges"/>
<path d="M968.50 178.50v-8.7M968.50 586.50v8.7" stroke="#000" stroke-width="3" shape-rendering="crispEdges"/>
<text x="969.00" y="619.80" font-size="23.09" text-anchor="middle" font-weight="normal" font-style="normal" textLength="72.86" lengthAdjust="spacingAndGlyphs">159°W</text>
<path d="M990.00 178.50v-2.7M990.00 586.50v2.7" stroke="#000" stroke-width="2" shape-rendering="crispEdges"/>
<path d="M1012.00 178.50v-2.7M1012.00 586.50v2.7" stroke="#000" stroke-width="2" shape-rendering="crispEdges"/>
<path d="M1034.50 178.50v-8.7M1034.50 586.50v8.7" stroke="#000" stroke-width="3" shape-rendering="crispEdges"/>
<text x="1035.00" y="619.80" font-size="23.09" text-anchor="middle" font-weight="normal" font-style="normal" textLength="72.86" lengthAdjust="spacingAndGlyphs">156°W</text>
<path d="M1056.00 178.50v-2.7M1056.00 586.50v2.7" stroke="#000" stroke-width="2" shape-rendering="crispEdges"/>
<path d="M1078.00 178.50v-2.7M1078.00 586.50v2.7" stroke="#000" stroke-width="2" shape-rendering="crispEdges"/>
<path d="M1100.50 178.50v-8.7M1100.50 586.50v8.7" stroke="#000" stroke-width="3" shape-rendering="crispEdges"/>
<text x="1101.00" y="619.80" font-size="23.09" text-anchor="middle" font-weight="normal" font-style="normal" textLength="72.86" lengthAdjust="spacingAndGlyphs">153°W</text>
<path d="M1122.00 178.50v-2.7M1122.00 586.50v2.7" stroke="#000" stroke-width="2" shape-rendering="crispEdges"/>
<path d="M1144.00 178.50v-2.7M1144.00 586.50v2.7" stroke="#000" stroke-width="2" shape-rendering="crispEdges"/>
<path d="M1166.50 178.50v-8.7M1166.50 586.50v8.7" stroke="#000" stroke-width="3" shape-rendering="crispEdges"/>
<text x="1167.00" y="619.80" font-size="23.09" text-anchor="middle" font-weight="normal" font-style="normal" textLength="72.86" lengthAdjust="spacingAndGlyphs">150°W</text>
<path d="M1188.00 178.50v-2.7M1188.00 586.50v2.7" stroke="#000" stroke-width="2" shape-rendering="crispEdges"/>
<path d="M1210.00 178.50v-2.7M1210.00 586.50v2.7" stroke="#000" stroke-width="2" shape-rendering="crispEdges"/>
<path d="M1232.50 178.50v-8.7M1232.50 586.50v8.7" stroke="#000" stroke-width="3" shape-rendering="crispEdges"/>
<text x="1233.00" y="619.80" font-size="23.09" text-anchor="middle" font-weight="normal" font-style="normal" textLength="72.86" lengthAdjust="spacingAndGlyphs">147°W</text>
<path d="M1254.00 178.50v-2.7M1254.00 586.50v2.7" stroke="#000" stroke-width="2" shape-rendering="crispEdges"/>
<path d="M1276.00 178.50v-2.7M1276.00 586.50v2.7" stroke="#000" stroke-width="2" shape-rendering="crispEdges"/>
<path d="M1298.50 178.50v-8.7M1298.50 586.50v8.7" stroke="#000" stroke-width="3" shape-rendering="crispEdges"/>
<text x="1299.00" y="619.80" font-size="23.09" text-anchor="middle" font-weight="normal" font-style="normal" textLength="72.86" lengthAdjust="spacingAndGlyphs">144°W</text>
<path d="M1320.00 178.50v-2.7M1320.00 586.50v2.7" stroke="#000" stroke-width="2" shape-rendering="crispEdges"/>
<path d="M1342.00 178.50v-2.7M1342.00 586.50v2.7" stroke="#000" stroke-width="2" shape-rendering="crispEdges"/>
<path d="M1364.50 178.50v-8.7M1364.50 586.50v8.7" stroke="#000" stroke-width="3" shape-rendering="crispEdges"/>
<text x="1365.00" y="619.80" font-size="23.09" text-anchor="middle" font-weight="normal" font-style="normal" textLength="72.86" lengthAdjust="spacingAndGlyphs">141°W</text>
<path d="M1386.00 178.50v-2.7M1386.00 586.50v2.7" stroke="#000" stroke-width="2" shape-rendering="crispEdges"/>
<path d="M1408.00 178.50v-2.7M1408.00 586.50v2.7" stroke="#000" stroke-width="2" shape-rendering="crispEdges"/>
<path d="M1430.50 178.50v-8.7M1430.50 586.50v8.7" stroke="#000" stroke-width="3" shape-rendering="crispEdges"/>
<text x="1431.00" y="619.80" font-size="23.09" text-anchor="middle" font-weight="normal" font-style="normal" textLength="72.86" lengthAdjust="spacingAndGlyphs">138°W</text>
<path d="M791.50 586.00h-2.7M1430.50 586.00h2.7" stroke="#000" stroke-width="2" shape-rendering="crispEdges"/>
<path d="M791.50 564.00h-2.7M1430.50 564.00h2.7" stroke="#000" stroke-width="2" shape-rendering="crispEdges"/>
<path d="M791.50 542.50h-8.7M1430.50 542.50h8.7" stroke="#000" stroke-width="3" shape-rendering="crispEdges"/>
<text x="1445.00" y="550.90" font-size="23.09" text-anchor="start" font-weight="normal" font-style="normal" textLength="55.91" lengthAdjust="spacingAndGlyphs">12°N</text>
<path d="M791.50 519.00h-2.7M1430.50 519.00h2.7" stroke="#000" stroke-width="2" shape-rendering="crispEdges"/>
<path d="M791.50 497.00h-2.7M1430.50 497.00h2.7" stroke="#000" stroke-width="2" shape-rendering="crispEdges"/>
<path d="M791.50 474.50h-8.7M1430.50 474.50h8.7" stroke="#000" stroke-width="3" shape-rendering="crispEdges"/>
<text x="1445.00" y="482.90" font-size="23.09" text-anchor="start" font-weight="normal" font-style="normal" textLength="55.91" lengthAdjust="spacingAndGlyphs">15°N</text>
<path d="M791.50 452.00h-2.7M1430.50 452.00h2.7" stroke="#000" stroke-width="2" shape-rendering="crispEdges"/>
<path d="M791.50 429.00h-2.7M1430.50 429.00h2.7" stroke="#000" stroke-width="2" shape-rendering="crispEdges"/>
<path d="M791.50 406.50h-8.7M1430.50 406.50h8.7" stroke="#000" stroke-width="3" shape-rendering="crispEdges"/>
<text x="1445.00" y="414.90" font-size="23.09" text-anchor="start" font-weight="normal" font-style="normal" textLength="55.91" lengthAdjust="spacingAndGlyphs">18°N</text>
<path d="M791.50 383.00h-2.7M1430.50 383.00h2.7" stroke="#000" stroke-width="2" shape-rendering="crispEdges"/>
<path d="M791.50 359.00h-2.7M1430.50 359.00h2.7" stroke="#000" stroke-width="2" shape-rendering="crispEdges"/>
<path d="M791.50 336.50h-8.7M1430.50 336.50h8.7" stroke="#000" stroke-width="3" shape-rendering="crispEdges"/>
<text x="1445.00" y="344.90" font-size="23.09" text-anchor="start" font-weight="normal" font-style="normal" textLength="55.91" lengthAdjust="spacingAndGlyphs">21°N</text>
<path d="M791.50 312.00h-2.7M1430.50 312.00h2.7" stroke="#000" stroke-width="2" shape-rendering="crispEdges"/>
<path d="M791.50 289.00h-2.7M1430.50 289.00h2.7" stroke="#000" stroke-width="2" shape-rendering="crispEdges"/>
<path d="M791.50 265.50h-8.7M1430.50 265.50h8.7" stroke="#000" stroke-width="3" shape-rendering="crispEdges"/>
<text x="1445.00" y="273.90" font-size="23.09" text-anchor="start" font-weight="normal" font-style="normal" textLength="55.91" lengthAdjust="spacingAndGlyphs">24°N</text>
<path d="M791.50 241.00h-2.7M1430.50 241.00h2.7" stroke="#000" stroke-width="2" shape-rendering="crispEdges"/>
<path d="M791.50 216.00h-2.7M1430.50 216.00h2.7" stroke="#000" stroke-width="2" shape-rendering="crispEdges"/>
<path d="M791.50 192.50h-8.7M1430.50 192.50h8.7" stroke="#000" stroke-width="3" shape-rendering="crispEdges"/>
<text x="1445.00" y="200.90" font-size="23.09" text-anchor="start" font-weight="normal" font-style="normal" textLength="55.91" lengthAdjust="spacingAndGlyphs">27°N</text>
<text x="757.00" y="42.10" font-size="39.83" text-anchor="middle" font-weight="bold" font-style="normal" textLength="403.66" lengthAdjust="spacingAndGlyphs">Temperature (0 m)</text>
<text x="403.40" y="167.10" font-size="28.81" text-anchor="middle" font-weight="bold" font-style="normal" textLength="670.47" lengthAdjust="spacingAndGlyphs">RTOFS (West Coast) - 2025-07-18 00:00:00</text>
<text x="1110.55" y="167.10" font-size="28.81" text-anchor="middle" font-weight="bold" font-style="normal" textLength="473.50" lengthAdjust="spacingAndGlyphs">CMEMS - 2025-07-18 00:00:00</text>
<rect x="176.50" y="646.80" width="116.79" height="16.20" fill="#062a47"/>
<rect x="292.79" y="646.80" width="116.79" height="16.20" fill="#1f3483"/>
<rect x="409.08" y="646.80" width="116.79" height="16.20" fill="#4f379e"/>
<rect x="525.37" y="646.80" width="116.79" height="16.20" fill="#704795"/>
<rect x="641.66" y="646.80" width="116.79" height="16.20" fill="#8f558a"/>
<rect x="757.95" y="646.80" width="116.79" height="16.20" fill="#b05f81"/>
<rect x="874.24" y="646.80" width="116.79" height="16.20" fill="#d5696c"/>
<rect x="990.53" y="646.80" width="116.79" height="16.20" fill="#ee7c55"/>
<rect x="1106.82" y="646.80" width="116.79" height="16.20" fill="#fa993c"/>
<rect x="1223.11" y="646.80" width="116.79" height="16.20" fill="#f9c041"/>
<polygon points="176.50,646.80 117.00,654.90 176.50,663.00" fill="#042333"/>
<polygon points="1339.40,646.80 1396.90,654.90 1339.40,663.00" fill="#e7fa5a"/>
<polygon points="117.00,654.90 176.50,646.80 1339.40,646.80 1396.90,654.90 1339.40,663.00 176.50,663.00" fill="none" stroke="#000" stroke-width="1.1" stroke-linejoin="miter"/>
<path d="M176.50 663.50v5.5" stroke="#000" stroke-width="1.1"/>
<text x="175.80" y="691.80" font-size="21.63" text-anchor="middle" font-weight="normal" font-style="normal" textLength="25.47" lengthAdjust="spacingAndGlyphs">25</text>
<path d="M409.08 663.50v5.5" stroke="#000" stroke-width="1.1"/>
<text x="408.38" y="691.80" font-size="21.63" text-anchor="middle" font-weight="normal" font-style="normal" textLength="25.47" lengthAdjust="spacingAndGlyphs">26</text>
<path d="M641.66 663.50v5.5" stroke="#000" stroke-width="1.1"/>
<text x="640.96" y="691.80" font-size="21.63" text-anchor="middle" font-weight="normal" font-style="normal" textLength="25.47" lengthAdjust="spacingAndGlyphs">27</text>
<path d="M874.24 663.50v5.5" stroke="#000" stroke-width="1.1"/>
<text x="873.54" y="691.80" font-size="21.63" text-anchor="middle" font-weight="normal" font-style="normal" textLength="25.47" lengthAdjust="spacingAndGlyphs">28</text>
<path d="M1106.82 663.50v5.5" stroke="#000" stroke-width="1.1"/>
<text x="1106.12" y="691.80" font-size="21.63" text-anchor="middle" font-weight="normal" font-style="normal" textLength="25.47" lengthAdjust="spacingAndGlyphs">29</text>
<path d="M1339.40 663.50v5.5" stroke="#000" stroke-width="1.1"/>
<text x="1338.70" y="691.80" font-size="21.63" text-anchor="middle" font-weight="normal" font-style="normal" textLength="25.47" lengthAdjust="spacingAndGlyphs">30</text>
<text x="757.70" y="718.80" font-size="21.63" text-anchor="middle" font-weight="bold" font-style="normal" textLength="234.98" lengthAdjust="spacingAndGlyphs">Temperature (degC)</text>
<text x="756.20" y="745.80" font-size="15.91" text-anchor="middle" font-weight="bold" font-style="italic" textLength="649.28" lengthAdjust="spacingAndGlyphs">Glider/Argo Search Window: 2025-07-16 09:00:00 to 2025-07-18 00:00:00</text>
<rect x="185.7" y="782.7" width="1143.3" height="66.3" rx="3.5" ry="3.5" fill="#fff" stroke="#ccc" stroke-width="1.3"/>
<circle cx="206.00" cy="795.00" r="6.10" fill="#1f77b4" stroke="#000" stroke-width="1.50"/>
<text x="230.80" y="800.00" font-size="14.14" text-anchor="start" font-weight="normal" font-style="normal" textLength="61.89" lengthAdjust="spacingAndGlyphs">2903863</text>
<polygon points="206.0,809.8 211.2,812.8 211.2,818.8 206.0,821.8 200.8,818.8 200.8,812.8" fill="#3d8ec9" stroke="#000" stroke-width="1.50" stroke-linejoin="miter"/>
<text x="230.80" y="820.80" font-size="14.14" text-anchor="start" font-weight="normal" font-style="normal" textLength="61.89" lengthAdjust="spacingAndGlyphs">3902373</text>
<polygon points="206.0,830.4 211.9,834.7 209.6,841.6 202.4,841.6 200.1,834.7" fill="#63a9dd" stroke="#000" stroke-width="1.50" stroke-linejoin="miter"/>
<text x="230.80" y="841.60" font-size="14.14" text-anchor="start" font-weight="normal" font-style="normal" textLength="61.89" lengthAdjust="spacingAndGlyphs">3902559</text>
<circle cx="334.72" cy="795.00" r="6.10" fill="#92c5ee" stroke="#000" stroke-width="1.50"/>
<text x="359.52" y="800.00" font-size="14.14" text-anchor="start" font-weight="normal" font-style="normal" textLength="61.89" lengthAdjust="spacingAndGlyphs">3902561</text>
<polygon points="334.7,809.8 340.0,812.8 340.0,818.8 334.7,821.8 329.5,818.8 329.5,812.8" fill="#c4e1fa" stroke="#000" stroke-width="1.50" stroke-linejoin="miter"/>
<text x="359.52" y="820.80" font-size="14.14" text-anchor="start" font-weight="normal" font-style="normal" textLength="61.89" lengthAdjust="spacingAndGlyphs">4903173</text>
<polygon points="334.7,830.4 340.6,834.7 338.4,841.6 331.1,841.6 328.8,834.7" fill="#ff7f0e" stroke="#000" stroke-width="1.50" stroke-linejoin="miter"/>
<text x="359.52" y="841.60" font-size="14.14" text-anchor="start" font-weight="normal" font-style="normal" textLength="61.89" lengthAdjust="spacingAndGlyphs">4903174</text>
<circle cx="463.44" cy="795.00" r="6.10" fill="#ff9838" stroke="#000" stroke-width="1.50"/>
<text x="488.24" y="800.00" font-size="14.14" text-anchor="start" font-weight="normal" font-style="normal" textLength="61.89" lengthAdjust="spacingAndGlyphs">4903175</text>
<polygon points="463.4,809.8 468.7,812.8 468.7,818.8 463.4,821.8 458.2,818.8 458.2,812.8" fill="#ffb069" stroke="#000" stroke-width="1.50" stroke-linejoin="miter"/>
<text x="488.24" y="820.80" font-size="14.14" text-anchor="start" font-weight="normal" font-style="normal" textLength="61.89" lengthAdjust="spacingAndGlyphs">5905270</text>
<polygon points="463.4,830.4 469.3,834.7 467.1,841.6 459.8,841.6 457.5,834.7" fill="#ffc999" stroke="#000" stroke-width="1.50" stroke-linejoin="miter"/>
<text x="488.24" y="841.60" font-size="14.14" text-anchor="start" font-weight="normal" font-style="normal" textLength="61.89" lengthAdjust="spacingAndGlyphs">5905275</text>
<circle cx="592.16" cy="795.00" r="6.10" fill="#ffe2ca" stroke="#000" stroke-width="1.50"/>
<text x="616.96" y="800.00" font-size="14.14" text-anchor="start" font-weight="normal" font-style="normal" textLength="61.89" lengthAdjust="spacingAndGlyphs">5905732</text>
<polygon points="592.2,809.8 597.4,812.8 597.4,818.8 592.2,821.8 586.9,818.8 586.9,812.8" fill="#2ca02c" stroke="#000" stroke-width="1.50" stroke-linejoin="miter"/>
<text x="616.96" y="820.80" font-size="14.14" text-anchor="start" font-weight="normal" font-style="normal" textLength="61.89" lengthAdjust="spacingAndGlyphs">5905746</text>
<polygon points="592.2,830.4 598.1,834.7 595.8,841.6 588.5,841.6 586.3,834.7" fill="#4bba4b" stroke="#000" stroke-width="1.50" stroke-linejoin="miter"/>
<text x="616.96" y="841.60" font-size="14.14" text-anchor="start" font-weight="normal" font-style="normal" textLength="61.89" lengthAdjust="spacingAndGlyphs">5905855</text>
<circle cx="720.88" cy="795.00" r="6.10" fill="#70d070" stroke="#000" stroke-width="1.50"/>
<text x="745.68" y="800.00" font-size="14.14" text-anchor="start" font-weight="normal" font-style="normal" textLength="61.89" lengthAdjust="spacingAndGlyphs">5905862</text>
<polygon points="720.9,809.8 726.1,812.8 726.1,818.8 720.9,821.8 715.6,818.8 715.6,812.8" fill="#98e698" stroke="#000" stroke-width="1.50" stroke-linejoin="miter"/>
<text x="745.68" y="820.80" font-size="14.14" text-anchor="start" font-weight="normal" font-style="normal" textLength="61.89" lengthAdjust="spacingAndGlyphs">5906164</text>
<polygon points="720.9,830.4 726.8,834.7 724.5,841.6 717.2,841.6 715.0,834.7" fill="#bffbc0" stroke="#000" stroke-width="1.50" stroke-linejoin="miter"/>
<text x="745.68" y="841.60" font-size="14.14" text-anchor="start" font-weight="normal" font-style="normal" textLength="61.89" lengthAdjust="spacingAndGlyphs">5906399</text>
<circle cx="849.60" cy="795.00" r="6.10" fill="#d62728" stroke="#000" stroke-width="1.50"/>
<text x="874.40" y="800.00" font-size="14.14" text-anchor="start" font-weight="normal" font-style="normal" textLength="61.89" lengthAdjust="spacingAndGlyphs">5906400</text>
<polygon points="849.6,809.8 854.8,812.8 854.8,818.8 849.6,821.8 844.4,818.8 844.4,812.8" fill="#e14b4b" stroke="#000" stroke-width="1.50" stroke-linejoin="miter"/>
<text x="874.40" y="820.80" font-size="14.14" text-anchor="start" font-weight="normal" font-style="normal" textLength="61.89" lengthAdjust="spacingAndGlyphs">5906470</text>
<polygon points="849.6,830.4 855.5,834.7 853.2,841.6 846.0,841.6 843.7,834.7" fill="#ec7070" stroke="#000" stroke-width="1.50" stroke-linejoin="miter"/>
<text x="874.40" y="841.60" font-size="14.14" text-anchor="start" font-weight="normal" font-style="normal" textLength="61.89" lengthAdjust="spacingAndGlyphs">5906564</text>
<circle cx="978.32" cy="795.00" r="6.10" fill="#f59a9a" stroke="#000" stroke-width="1.50"/>
<text x="1003.12" y="800.00" font-size="14.14" text-anchor="start" font-weight="normal" font-style="normal" textLength="61.89" lengthAdjust="spacingAndGlyphs">5906757</text>
<polygon points="978.3,809.8 983.6,812.8 983.6,818.8 978.3,821.8 973.1,818.8 973.1,812.8" fill="#fdc6c6" stroke="#000" stroke-width="1.50" stroke-linejoin="miter"/>
<text x="1003.12" y="820.80" font-size="14.14" text-anchor="start" font-weight="normal" font-style="normal" textLength="61.89" lengthAdjust="spacingAndGlyphs">5906796</text>
<polygon points="1107.0,788.8 1112.9,793.1 1110.7,800.0 1103.4,800.0 1101.1,793.1" fill="#9467bd" stroke="#000" stroke-width="1.50" stroke-linejoin="miter"/>
<text x="1131.84" y="800.00" font-size="14.14" text-anchor="start" font-weight="normal" font-style="normal" textLength="61.89" lengthAdjust="spacingAndGlyphs">5906812</text>
<circle cx="1107.04" cy="815.80" r="6.10" fill="#a780cf" stroke="#000" stroke-width="1.50"/>
<text x="1131.84" y="820.80" font-size="14.14" text-anchor="start" font-weight="normal" font-style="normal" textLength="61.89" lengthAdjust="spacingAndGlyphs">5906815</text>
<polygon points="1235.8,789.0 1241.0,792.0 1241.0,798.0 1235.8,801.0 1230.5,798.0 1230.5,792.0" fill="#bd9ee2" stroke="#000" stroke-width="1.50" stroke-linejoin="miter"/>
<text x="1260.56" y="800.00" font-size="14.14" text-anchor="start" font-weight="normal" font-style="normal" textLength="61.89" lengthAdjust="spacingAndGlyphs">5906854</text>
<polygon points="1235.8,809.6 1241.7,813.9 1239.4,820.8 1232.1,820.8 1229.9,813.9" fill="#d2b8f0" stroke="#000" stroke-width="1.50" stroke-linejoin="miter"/>
<text x="1260.56" y="820.80" font-size="14.14" text-anchor="start" font-weight="normal" font-style="normal" textLength="61.89" lengthAdjust="spacingAndGlyphs">5907049</text>
</svg></body></html>
